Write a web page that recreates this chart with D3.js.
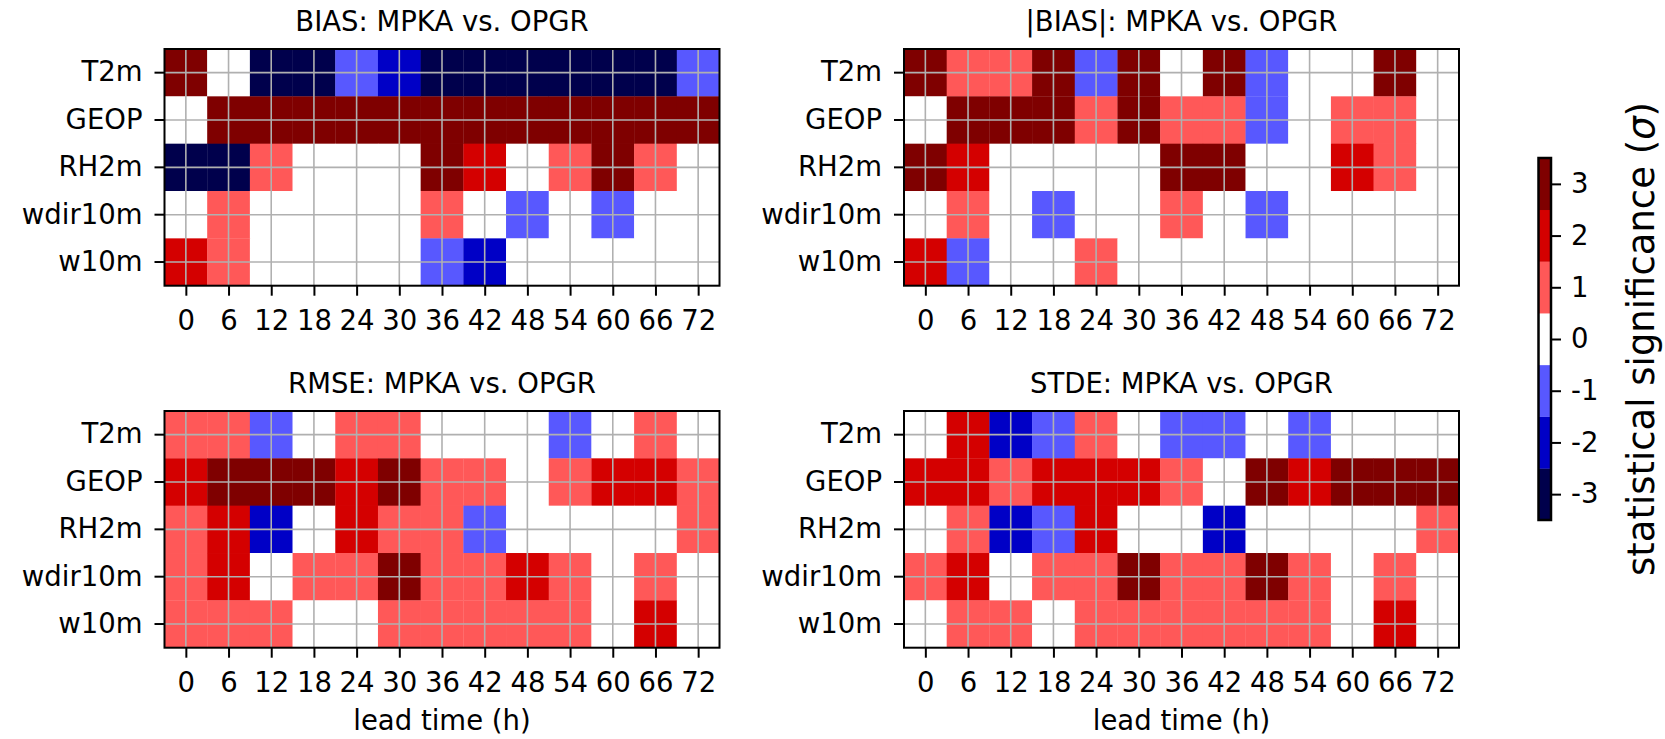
<!DOCTYPE html>
<html>
<head>
<meta charset="utf-8">
<script src="https://cdn.jsdelivr.net/npm/d3@7"></script>
<style>
  html, body { margin: 0; padding: 0; background: #fff; }
  svg text { font-family: "DejaVu Sans", sans-serif; fill: #000; }
</style>
</head>
<body>
<svg id="chart" width="1665" height="739"></svg>
<script>
// ---- data ----
const variables = ["T2m", "GEOP", "RH2m", "wdir10m", "w10m"];
const leadTimes = [0, 6, 12, 18, 24, 30, 36, 42, 48, 54, 60, 66, 72];
const panelTitles = ["BIAS: MPKA vs. OPGR", "|BIAS|: MPKA vs. OPGR", "RMSE: MPKA vs. OPGR", "STDE: MPKA vs. OPGR"];
const colorbarTicks = [-3, -2, -1, 0, 1, 2, 3];
const levelColors = ["#00004c", "#0000c6", "#5858ff", "#ffffff", "#ff5858", "#d40000", "#7f0000"];

const biasValues = [
  [3, 0, -3, -3, -1, -2, -3, -3, -3, -3, -3, -3, -1],
  [0, 3, 3, 3, 3, 3, 3, 3, 3, 3, 3, 3, 3],
  [-3, -3, 1, 0, 0, 0, 3, 2, 0, 1, 3, 1, 0],
  [0, 1, 0, 0, 0, 0, 1, 0, -1, 0, -1, 0, 0],
  [2, 1, 0, 0, 0, 0, -1, -2, 0, 0, 0, 0, 0]
];
const absBiasValues = [
  [3, 1, 1, 3, -1, 3, 0, 3, -1, 0, 0, 3, 0],
  [0, 3, 3, 3, 1, 3, 1, 1, -1, 0, 1, 1, 0],
  [3, 2, 0, 0, 0, 0, 3, 3, 0, 0, 2, 1, 0],
  [0, 1, 0, -1, 0, 0, 1, 0, -1, 0, 0, 0, 0],
  [2, -1, 0, 0, 1, 0, 0, 0, 0, 0, 0, 0, 0]
];
const rmseValues = [
  [1, 1, -1, 0, 1, 1, 0, 0, 0, -1, 0, 1, 0],
  [2, 3, 3, 3, 2, 3, 1, 1, 0, 1, 2, 2, 1],
  [1, 2, -2, 0, 2, 1, 1, -1, 0, 0, 0, 0, 1],
  [1, 2, 0, 1, 1, 3, 1, 1, 2, 1, 0, 1, 0],
  [1, 1, 1, 0, 0, 1, 1, 1, 1, 1, 0, 2, 0]
];
const stdeValues = [
  [0, 2, -2, -1, 1, 0, -1, -1, 0, -1, 0, 0, 0],
  [2, 2, 1, 2, 2, 2, 1, 0, 3, 2, 3, 3, 3],
  [0, 1, -2, -1, 2, 0, 0, -2, 0, 0, 0, 0, 1],
  [1, 2, 0, 1, 1, 3, 1, 1, 3, 1, 0, 1, 0],
  [0, 1, 1, 0, 1, 1, 1, 1, 1, 1, 0, 2, 0]
];
const panelValues = [biasValues, absBiasValues, rmseValues, stdeValues];

// ---- layout ----
const FONT = 27.5;
const panelW = 555, panelH = 236.7;
const panelPos = [
  { x: 164.5, y: 49 },
  { x: 904, y: 49 },
  { x: 164.5, y: 411 },
  { x: 904, y: 411 }
];
const svg = d3.select("#chart");

const color = d3.scaleThreshold()
  .domain([-2.5, -1.5, -0.5, 0.5, 1.5, 2.5])
  .range(levelColors);

const x = d3.scaleLinear().domain([-3, 75]).range([0, panelW]);
const y = d3.scaleBand().domain(variables).range([0, panelH]).padding(0);

panelValues.forEach((vals, pi) => {
  const g = svg.append("g").attr("transform", `translate(${panelPos[pi].x},${panelPos[pi].y})`);
  const cells = [];
  vals.forEach((row, ri) => row.forEach((v, ci) => cells.push({ v, vr: variables[ri], lt: leadTimes[ci] })));
  g.selectAll("rect.cell").data(cells).enter().append("rect")
    .attr("class", "cell")
    .attr("x", d => x(d.lt - 3))
    .attr("y", d => y(d.vr))
    .attr("width", d => x(d.lt + 3) - x(d.lt - 3) + 0.3)
    .attr("height", y.bandwidth() + 0.3)
    .attr("fill", d => color(d.v));

  // grid
  g.selectAll("line.vg").data(leadTimes).enter().append("line")
    .attr("x1", d => x(d)).attr("x2", d => x(d))
    .attr("y1", 0).attr("y2", panelH)
    .attr("stroke", "#b0b0b0").attr("stroke-width", 1.6);
  g.selectAll("line.hg").data(variables).enter().append("line")
    .attr("y1", d => y(d) + y.bandwidth() / 2).attr("y2", d => y(d) + y.bandwidth() / 2)
    .attr("x1", 0).attr("x2", panelW)
    .attr("stroke", "#b0b0b0").attr("stroke-width", 1.6);

  // axes
  const xAxis = d3.axisBottom(x).tickValues(leadTimes).tickSize(10).tickPadding(14.5).tickFormat(d3.format("d"));
  const gx = g.append("g").attr("transform", `translate(0,${panelH})`).call(xAxis);
  const yAxis = d3.axisLeft(y).tickSize(10).tickPadding(12);
  const gy = g.append("g").call(yAxis);
  [gx, gy].forEach(ax => {
    ax.select(".domain").remove();
    ax.selectAll(".tick line").attr("stroke", "#000").attr("stroke-width", 2);
    ax.selectAll(".tick text").style("font-size", FONT + "px").style("font-family", "DejaVu Sans");
  });

  // frame
  g.append("rect").attr("x", 0).attr("y", 0).attr("width", panelW).attr("height", panelH)
    .attr("fill", "none").attr("stroke", "#000").attr("stroke-width", 2);

  // title
  g.append("text").attr("x", panelW / 2).attr("y", -18).attr("text-anchor", "middle")
    .style("font-size", FONT + "px").text(panelTitles[pi]);

  if (pi >= 2) {
    g.append("text").attr("x", panelW / 2).attr("y", panelH + 82).attr("text-anchor", "middle")
      .style("font-size", FONT + "px").text("lead time (h)");
  }
});

// ---- colorbar ----
const cbX = 1538.5, cbW = 12.5, cbTop = 158, cbBot = 520;
const cy = d3.scaleLinear().domain([-3.5, 3.5]).range([cbBot, cbTop]);
const cb = svg.append("g").attr("transform", `translate(${cbX},0)`);
cb.selectAll("rect.lv").data(colorbarTicks).enter().append("rect")
  .attr("x", 0).attr("width", cbW)
  .attr("y", d => cy(d + 0.5)).attr("height", d => cy(d - 0.5) - cy(d + 0.5) + 0.3)
  .attr("fill", d => color(d));
cb.append("rect").attr("x", 0).attr("y", cbTop).attr("width", cbW).attr("height", cbBot - cbTop)
  .attr("fill", "none").attr("stroke", "#000").attr("stroke-width", 2.5);
const cAxis = d3.axisRight(cy).tickValues(colorbarTicks).tickSize(10).tickPadding(10).tickFormat(d => String(d));
const gc = svg.append("g").attr("transform", `translate(${cbX + cbW},0)`).call(cAxis);
gc.select(".domain").remove();
gc.selectAll(".tick line").attr("stroke", "#000").attr("stroke-width", 2);
gc.selectAll(".tick text").style("font-size", FONT + "px").style("font-family", "DejaVu Sans");

const lbl = svg.append("text")
  .attr("transform", `translate(1654,${(cbTop + cbBot) / 2}) rotate(-90)`)
  .attr("text-anchor", "middle")
  .style("font-size", "37px");
lbl.append("tspan").text("statistical significance (");
lbl.append("tspan").style("font-style", "italic").text("σ");
lbl.append("tspan").text(")");
</script>
</body>
</html>
